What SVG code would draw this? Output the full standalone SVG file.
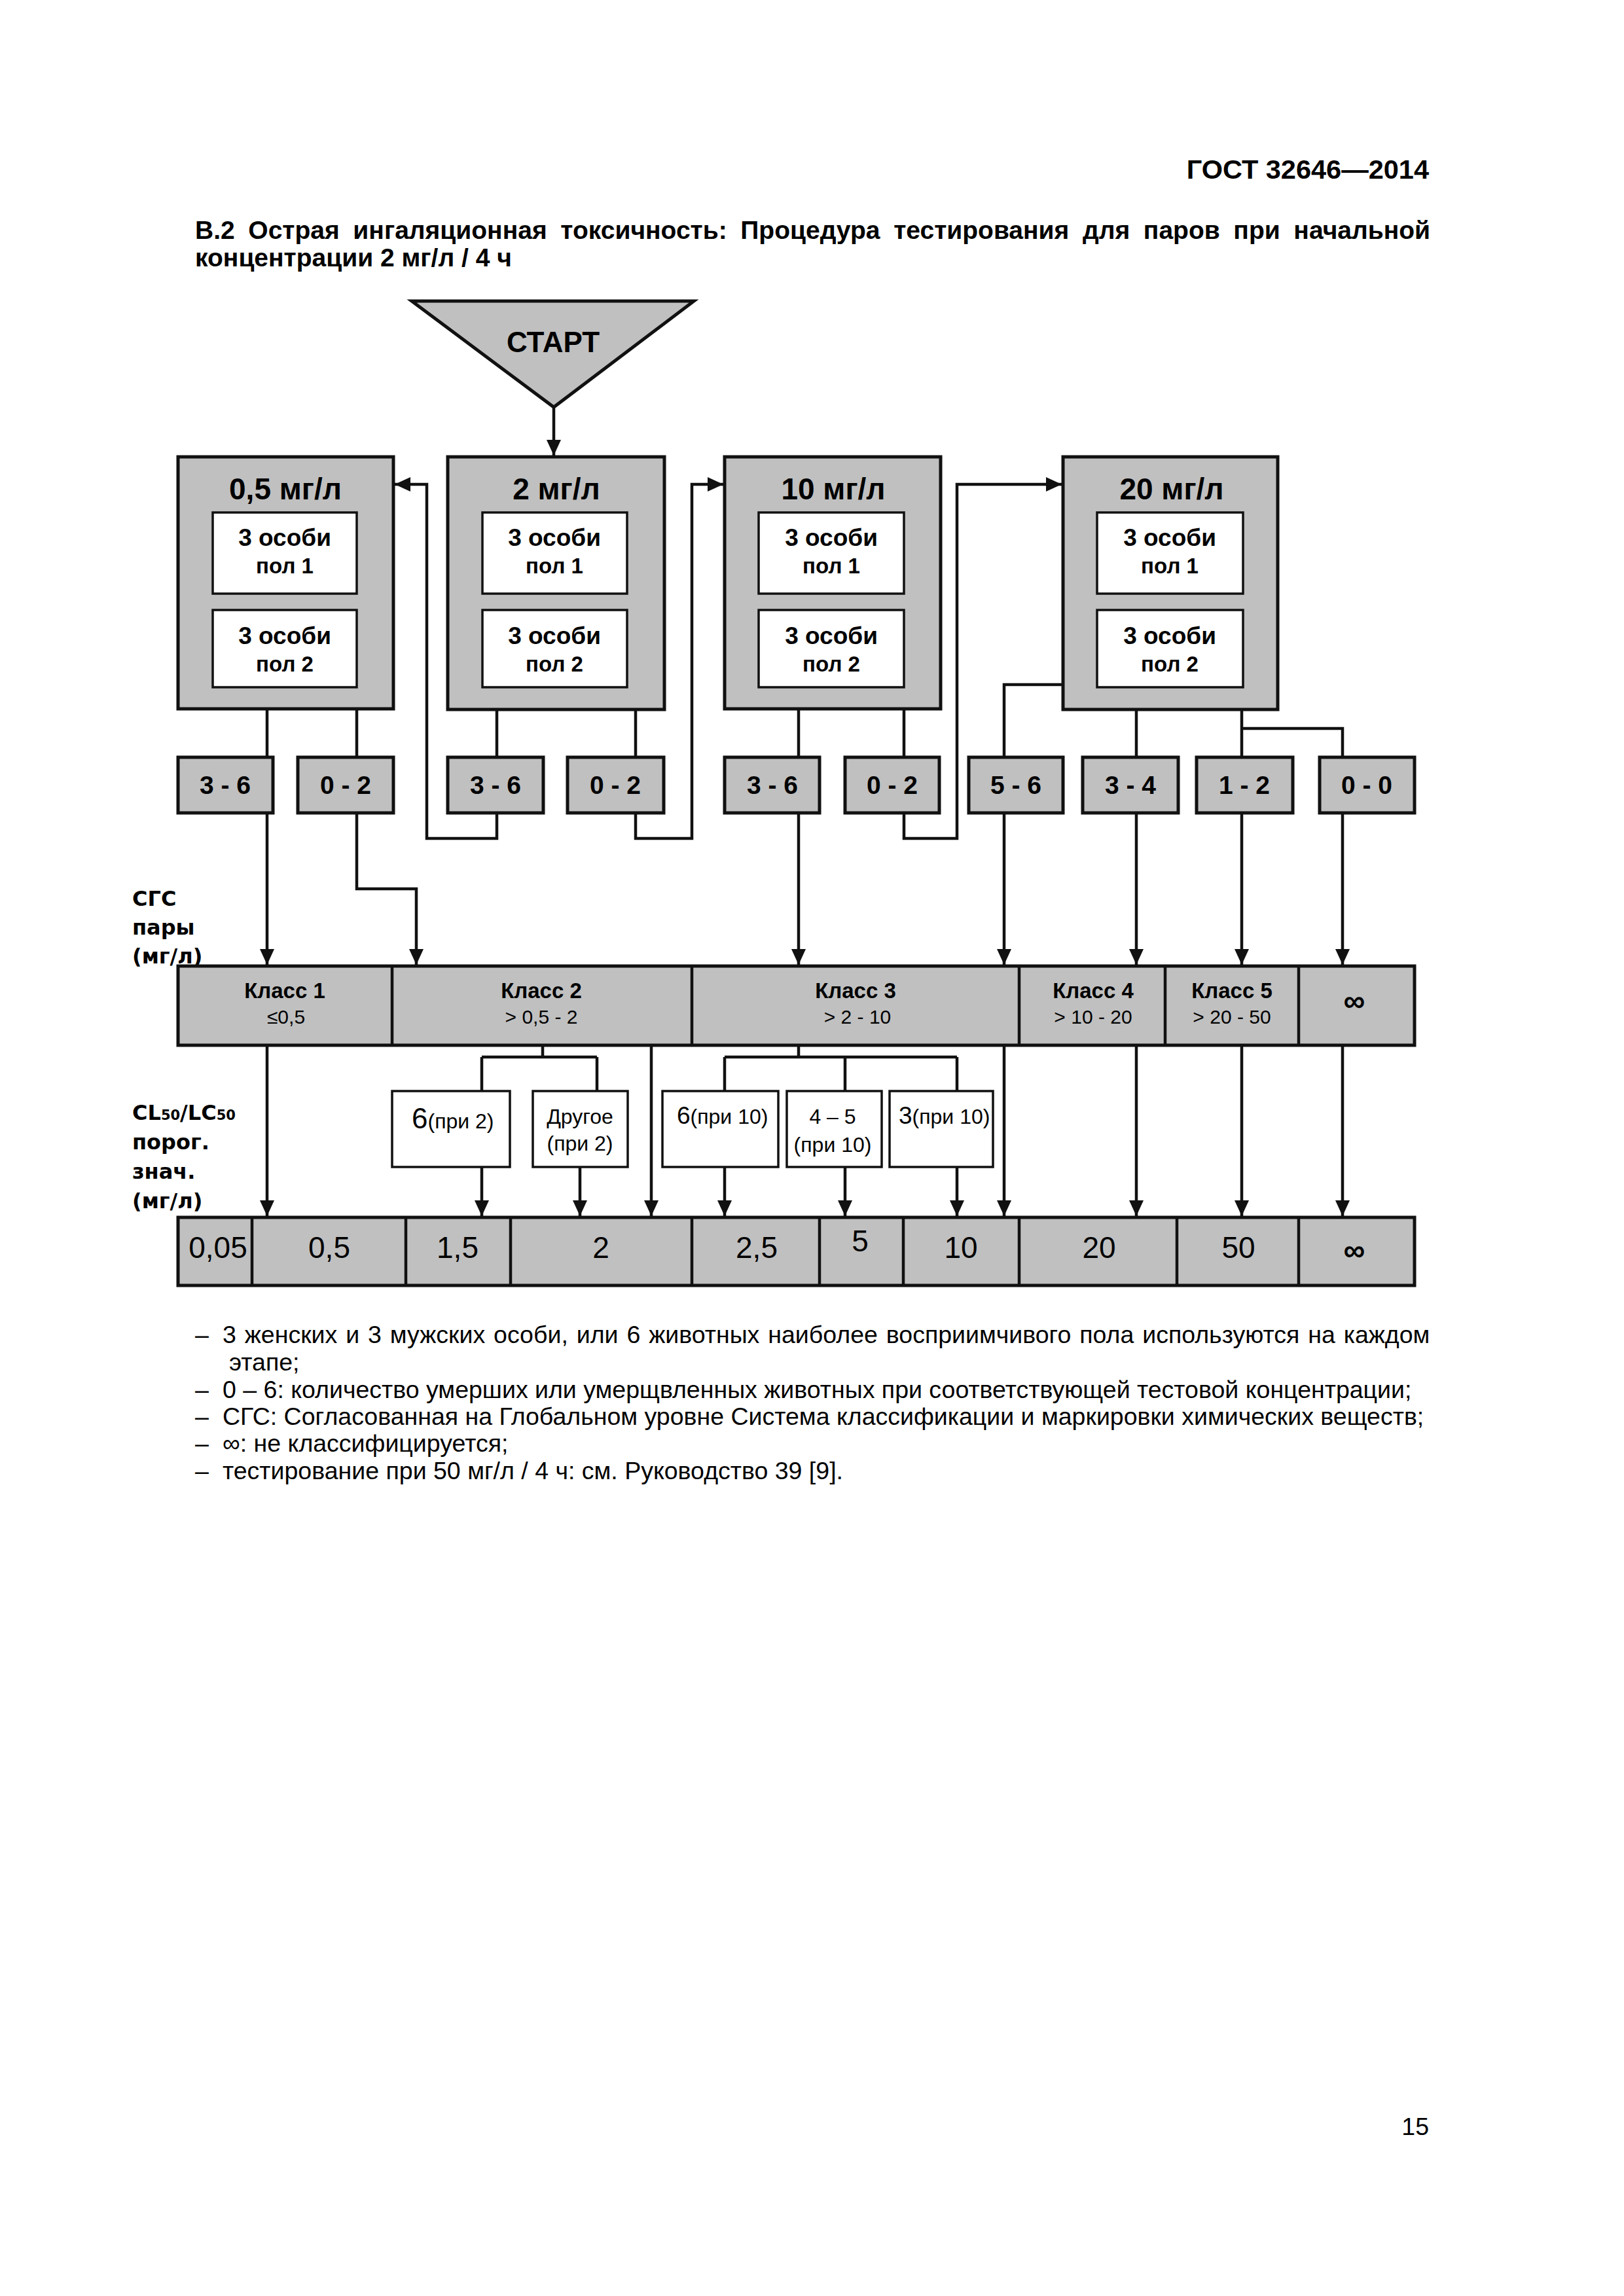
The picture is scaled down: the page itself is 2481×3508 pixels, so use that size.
<svg xmlns="http://www.w3.org/2000/svg" width="2481" height="3508" viewBox="0 0 2481 3508">
<style>
text{font-family:"Liberation Sans",Arial,sans-serif;fill:#000}
.b{font-weight:bold}
.c{text-anchor:middle}
.g{fill:#c0c0c0;stroke:#111;stroke-width:5}
.w{fill:#fff;stroke:#111;stroke-width:3.5}
.ln{fill:none;stroke:#111;stroke-width:4.5}
.lbl{font-family:"DejaVu Sans","Liberation Sans",sans-serif;font-weight:bold;font-size:32px}
.ttl{font-size:46px;font-weight:bold;text-anchor:middle}
.os{font-size:37px;font-weight:bold;text-anchor:middle}
.pol{font-size:33px;font-weight:bold;text-anchor:middle}
.res{font-size:39px;font-weight:bold;text-anchor:middle}
.k1{font-size:33px;font-weight:bold;text-anchor:middle}
.k2{font-size:30px;text-anchor:middle}
.val{font-size:46px;text-anchor:middle}
.mb{font-size:32px}
.fn{font-size:37.5px}
</style>
<defs>
<marker id="ah" viewBox="0 0 24 22" refX="24" refY="11" markerWidth="24" markerHeight="22" markerUnits="userSpaceOnUse" orient="auto">
<path d="M0,0 L24,11 L0,22 z" fill="#111"/>
</marker>
</defs>
<rect width="2481" height="3508" fill="#fff"/>

<text class="b" x="2183" y="273" font-size="41.5" text-anchor="end">ГОСТ 32646—2014</text>
<text class="b" x="298" y="365" font-size="39" word-spacing="9.8">В.2 Острая ингаляционная токсичность: Процедура тестирования для паров при начальной</text>
<text class="b" x="298" y="407" font-size="39">концентрации 2 мг/л / 4 ч</text>

<g id="start">
<polygon class="g" points="629,460 1060,460 846,622"/>
<text class="b c" x="845" y="538" font-size="44">СТАРТ</text>
</g>

<g id="box05">
<rect class="g" x="272" y="698" width="329" height="385"/>
<text class="ttl" x="436" y="763">0,5 мг/л</text>
<rect class="w" x="325" y="783" width="220" height="124"/>
<text class="os" x="435" y="834">3 особи</text>
<text class="pol" x="435" y="876">пол 1</text>
<rect class="w" x="325" y="932" width="220" height="118"/>
<text class="os" x="435" y="984">3 особи</text>
<text class="pol" x="435" y="1026">пол 2</text>
</g>
<g id="box2">
<rect class="g" x="684" y="698" width="331" height="386"/>
<text class="ttl" x="850" y="763">2 мг/л</text>
<rect class="w" x="737" y="783" width="221" height="124"/>
<text class="os" x="847" y="834">3 особи</text>
<text class="pol" x="847" y="876">пол 1</text>
<rect class="w" x="737" y="932" width="221" height="118"/>
<text class="os" x="847" y="984">3 особи</text>
<text class="pol" x="847" y="1026">пол 2</text>
</g>
<g id="box10">
<rect class="g" x="1107" y="698" width="330" height="385"/>
<text class="ttl" x="1273" y="763">10 мг/л</text>
<rect class="w" x="1159" y="783" width="222" height="124"/>
<text class="os" x="1270" y="834">3 особи</text>
<text class="pol" x="1270" y="876">пол 1</text>
<rect class="w" x="1159" y="932" width="222" height="118"/>
<text class="os" x="1270" y="984">3 особи</text>
<text class="pol" x="1270" y="1026">пол 2</text>
</g>
<g id="box20">
<rect class="g" x="1624" y="698" width="328" height="386"/>
<text class="ttl" x="1790" y="763">20 мг/л</text>
<rect class="w" x="1676" y="783" width="223" height="124"/>
<text class="os" x="1787" y="834">3 особи</text>
<text class="pol" x="1787" y="876">пол 1</text>
<rect class="w" x="1676" y="932" width="223" height="118"/>
<text class="os" x="1787" y="984">3 особи</text>
<text class="pol" x="1787" y="1026">пол 2</text>
</g>

<g id="results">
<g id="r1"><rect class="g" x="272" y="1157" width="145" height="85"/><text class="res" x="344" y="1213">3 - 6</text></g>
<g id="r2"><rect class="g" x="455" y="1157" width="146" height="85"/><text class="res" x="528" y="1213">0 - 2</text></g>
<g id="r3"><rect class="g" x="684" y="1157" width="146" height="85"/><text class="res" x="757" y="1213">3 - 6</text></g>
<g id="r4"><rect class="g" x="867" y="1157" width="147" height="85"/><text class="res" x="940" y="1213">0 - 2</text></g>
<g id="r5"><rect class="g" x="1107" y="1157" width="145" height="85"/><text class="res" x="1180" y="1213">3 - 6</text></g>
<g id="r6"><rect class="g" x="1291" y="1157" width="144" height="85"/><text class="res" x="1363" y="1213">0 - 2</text></g>
<g id="r7"><rect class="g" x="1480" y="1157" width="144" height="85"/><text class="res" x="1552" y="1213">5 - 6</text></g>
<g id="r8"><rect class="g" x="1654" y="1157" width="146" height="85"/><text class="res" x="1727" y="1213">3 - 4</text></g>
<g id="r9"><rect class="g" x="1828" y="1157" width="147" height="85"/><text class="res" x="1901" y="1213">1 - 2</text></g>
<g id="r10"><rect class="g" x="2016" y="1157" width="145" height="85"/><text class="res" x="2088" y="1213">0 - 0</text></g>
</g>

<g id="labels">
<text class="lbl" x="202" y="1384">СГС</text>
<text class="lbl" x="202" y="1428">пары</text>
<text class="lbl" x="202" y="1472">(мг/л)</text>
<text class="lbl" x="202" y="1711">CL<tspan font-size="21">50</tspan>/LC<tspan font-size="21">50</tspan></text>
<text class="lbl" x="202" y="1756">порог.</text>
<text class="lbl" x="202" y="1801">знач.</text>
<text class="lbl" x="202" y="1846">(мг/л)</text>
</g>

<g id="classes">
<rect class="g" x="272" y="1476" width="1889" height="121"/>
<path class="ln" d="M599,1476V1597M1057,1476V1597M1557,1476V1597M1780,1476V1597M1984,1476V1597" stroke-width="5"/>
<g id="c1"><text class="k1" x="435" y="1525">Класс 1</text><text class="k2" x="437" y="1564">≤0,5</text></g>
<g id="c2"><text class="k1" x="827" y="1525">Класс 2</text><text class="k2" x="827" y="1564">&gt; 0,5 - 2</text></g>
<g id="c3"><text class="k1" x="1307" y="1525">Класс 3</text><text class="k2" x="1310" y="1564">&gt; 2 - 10</text></g>
<g id="c4"><text class="k1" x="1670" y="1525">Класс 4</text><text class="k2" x="1670" y="1564">&gt; 10 - 20</text></g>
<g id="c5"><text class="k1" x="1882" y="1525">Класс 5</text><text class="k2" x="1882" y="1564">&gt; 20 - 50</text></g>
<g id="c6"><text class="b c" x="2069" y="1545" font-size="46">∞</text></g>
</g>

<g id="mid">
<g id="m1"><rect class="w" x="599" y="1667" width="180" height="116"/><text x="629" y="1724"><tspan font-size="44">6</tspan><tspan class="mb">(при 2)</tspan></text></g>
<g id="m2"><rect class="w" x="814" y="1667" width="145" height="116"/><text class="c mb" x="886" y="1717">Другое</text><text class="c mb" x="886" y="1758">(при 2)</text></g>
<g id="m3"><rect class="w" x="1012" y="1667" width="177" height="116"/><text x="1034" y="1717"><tspan font-size="37">6</tspan><tspan class="mb">(при 10)</tspan></text></g>
<g id="m4"><rect class="w" x="1202" y="1667" width="145" height="116"/><text class="c mb" x="1272" y="1717">4 – 5</text><text class="c mb" x="1272" y="1760">(при 10)</text></g>
<g id="m5"><rect class="w" x="1359" y="1667" width="158" height="116"/><text x="1373" y="1717"><tspan font-size="37">3</tspan><tspan class="mb">(при 10)</tspan></text></g>
</g>

<g id="values">
<rect class="g" x="272" y="1860" width="1889" height="104"/>
<path class="ln" d="M385,1860V1964M620,1860V1964M780,1860V1964M1057,1860V1964M1252,1860V1964M1380,1860V1964M1557,1860V1964M1798,1860V1964M1984,1860V1964" stroke-width="5"/>
<text class="val" x="333" y="1922">0,05</text>
<text class="val" x="503" y="1922">0,5</text>
<text class="val" x="699" y="1922">1,5</text>
<text class="val" x="918" y="1922">2</text>
<text class="val" x="1156" y="1922">2,5</text>
<text class="val" x="1314" y="1912" font-size="40">5</text>
<text class="val" x="1468" y="1922">10</text>
<text class="val" x="1679" y="1922">20</text>
<text class="val" x="1892" y="1922">50</text>
<text class="val b" x="2069" y="1926">∞</text>
</g>

<g id="connectors" class="ln">
<path d="M846,622V696" marker-end="url(#ah)"/>
<path d="M408,1083V1157M545,1083V1157M759,1084V1157M971,1084V1157M1220,1083V1157M1381,1083V1157M1736,1084V1157M1897,1084V1157M1897,1113H2051V1157M1624,1046H1534V1157"/>
<path d="M408,1242V1474" marker-end="url(#ah)"/>
<path d="M545,1242V1358H636V1474" marker-end="url(#ah)"/>
<path d="M759,1242V1281H652V740H603" marker-end="url(#ah)"/>
<path d="M971,1242V1281H1057V740H1105" marker-end="url(#ah)"/>
<path d="M1220,1242V1474" marker-end="url(#ah)"/>
<path d="M1381,1242V1281H1462V740H1622" marker-end="url(#ah)"/>
<path d="M1534,1242V1474" marker-end="url(#ah)"/>
<path d="M1736,1242V1474" marker-end="url(#ah)"/>
<path d="M1897,1242V1474" marker-end="url(#ah)"/>
<path d="M2051,1242V1474" marker-end="url(#ah)"/>
<path d="M829,1597V1615M736,1615H912M736,1615V1667M912,1615V1667M1220,1597V1615M1107,1615H1462M1107,1615V1667M1291,1615V1667M1462,1615V1667"/>
<path d="M408,1597V1858" marker-end="url(#ah)"/>
<path d="M736,1783V1858" marker-end="url(#ah)"/>
<path d="M886,1783V1858" marker-end="url(#ah)"/>
<path d="M995,1597V1858" marker-end="url(#ah)"/>
<path d="M1107,1783V1858" marker-end="url(#ah)"/>
<path d="M1291,1783V1858" marker-end="url(#ah)"/>
<path d="M1462,1783V1858" marker-end="url(#ah)"/>
<path d="M1534,1597V1858" marker-end="url(#ah)"/>
<path d="M1736,1597V1858" marker-end="url(#ah)"/>
<path d="M1897,1597V1858" marker-end="url(#ah)"/>
<path d="M2051,1597V1858" marker-end="url(#ah)"/>
</g>

<g id="notes">
<text class="fn" x="298" y="2052">–</text>
<text class="fn" x="340" y="2052" word-spacing="2.5">3 женских и 3 мужских особи, или 6 животных наиболее восприимчивого пола используются на каждом</text>
<text class="fn" x="350" y="2094">этапе;</text>
<text class="fn" x="298" y="2136">–</text>
<text class="fn" x="340" y="2136">0 – 6: количество умерших или умерщвленных животных при соответствующей тестовой концентрации;</text>
<text class="fn" x="298" y="2177">–</text>
<text class="fn" x="340" y="2177">СГС: Согласованная на Глобальном уровне Система классификации и маркировки химических веществ;</text>
<text class="fn" x="298" y="2218">–</text>
<text class="fn" x="340" y="2218">∞: не классифицируется;</text>
<text class="fn" x="298" y="2260">–</text>
<text class="fn" x="340" y="2260">тестирование при 50 мг/л / 4 ч: см. Руководство 39 [9].</text>
</g>

<text x="2183" y="3262" font-size="37.5" text-anchor="end">15</text>
</svg>
